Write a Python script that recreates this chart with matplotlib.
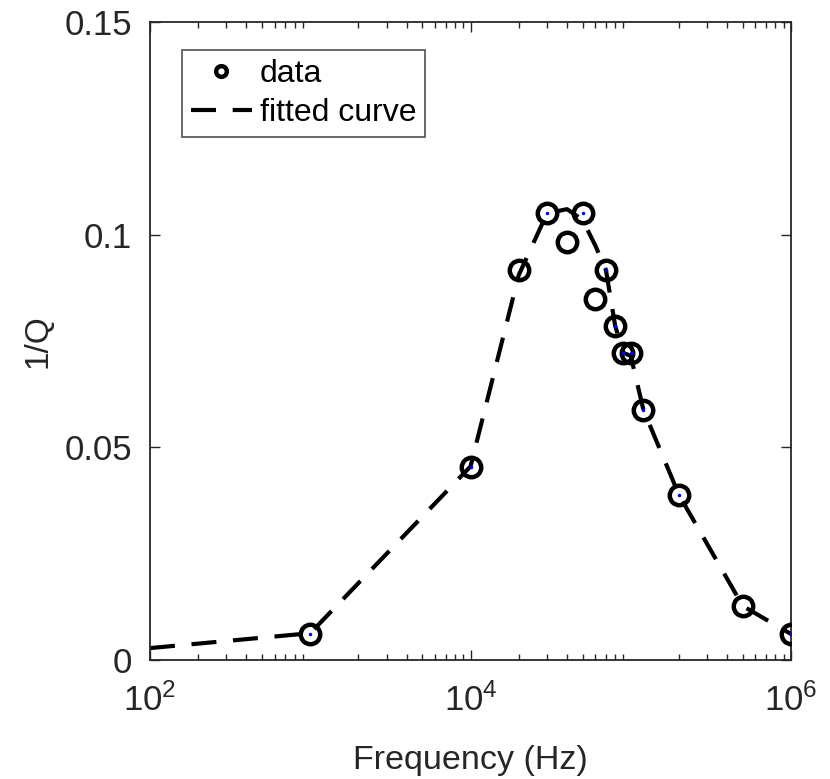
import matplotlib
matplotlib.use("Agg")
import matplotlib.pyplot as plt
from matplotlib.ticker import LogLocator, NullFormatter

plt.rcParams['font.family'] = ['Liberation Sans', 'DejaVu Sans']
plt.rcParams['mathtext.fontset'] = 'custom'
plt.rcParams['mathtext.rm'] = 'Liberation Sans'
plt.rcParams['mathtext.it'] = 'Liberation Sans'

# measured data
freq_data = [1e3, 1e4, 2e4, 3e4, 4e4, 5e4, 6e4, 7e4, 8e4, 9e4, 1e5, 1.2e5, 2e5, 5e5, 1e6]
invq_data = [0.0061, 0.0454, 0.0917, 0.1050, 0.0983, 0.1050, 0.0849, 0.0917, 0.0785,
             0.0722, 0.0722, 0.0588, 0.0388, 0.0127, 0.0061]

# fitted curve
freq_fit = [1e2, 1e3, 1e4, 2e4, 3e4, 4e4, 5e4, 6e4, 7e4, 8e4, 9e4, 1e5, 1.2e5, 2e5, 5e5, 1e6]
invq_fit = [0.0028, 0.0063, 0.0455, 0.0905, 0.1050, 0.1060, 0.1035, 0.0975, 0.0917, 0.0785,
            0.0722, 0.0715, 0.0588, 0.0388, 0.0127, 0.0061]

# blue centre dots at fitted points
freq_dot = [1e3, 1e4, 3e4, 5e4, 7e4, 8e4, 9e4, 1e5, 1.2e5, 2e5, 1e6]
invq_dot = [0.0061, 0.0454, 0.1050, 0.1050, 0.0917, 0.0785, 0.0722, 0.0722, 0.0588, 0.0388, 0.0061]

xticks = [1e2, 1e4, 1e6]
xticklabels = [r'$\mathregular{10^{2}}$', r'$\mathregular{10^{4}}$', r'$\mathregular{10^{6}}$']
yticks = [0, 0.05, 0.1, 0.15]
yticklabels = ['0', '0.05', '0.1', '0.15']

axc = '#262626'
fig = plt.figure(figsize=(8.30, 7.79), dpi=100)
ax = fig.add_axes([150/830, 1-660/779, (791-150)/830, (660-22)/779])

ax.plot(freq_fit, invq_fit, color='black', lw=3.0, dashes=(6, 4), label='fitted curve', zorder=2)
ax.plot(freq_data, invq_data, 'o', ms=14, mfc='none', mec='black', mew=3.2, label='data', zorder=3)
ax.plot(freq_dot, invq_dot, '.', color='blue', ms=3, zorder=4)

ax.set_xscale('log')
ax.set_xlim(1e2, 1e6)
ax.set_ylim(0, 0.15)
ax.set_xticks(xticks)
ax.set_xticklabels(xticklabels)
ax.xaxis.set_minor_locator(LogLocator(base=10, subs=range(2, 10), numticks=20))
ax.xaxis.set_minor_formatter(NullFormatter())
ax.set_yticks(yticks)
ax.set_yticklabels(yticklabels)

ax.tick_params(which='both', direction='in', top=True, right=True, colors=axc,
               labelsize=25, width=1.0)
ax.tick_params(which='major', length=7)
ax.tick_params(which='minor', length=4)
ax.tick_params(axis='y', which='major', pad=13)
ax.tick_params(axis='x', which='major', pad=17)
for s in ax.spines.values():
    s.set_color(axc)
    s.set_linewidth(1.3)

ax.set_xlabel('Frequency (Hz)', fontsize=24.5, color=axc, labelpad=19)
ax.set_ylabel('1/Q', fontsize=24, color=axc, labelpad=8)

handles, labels = ax.get_legend_handles_labels()
leg = ax.legend([handles[1], handles[0]], [labels[1], labels[0]], loc='upper left',
                bbox_to_anchor=((182-150)/641, 1-(50-22)/638), fontsize=23,
                frameon=True, fancybox=False, edgecolor=axc, borderaxespad=0,
                handlelength=1.9, handletextpad=0.25, labelspacing=0.28, borderpad=0.28,
                markerscale=0.55)
leg.get_frame().set_linewidth(1.2)

fig.savefig('out.png', dpi=100)
